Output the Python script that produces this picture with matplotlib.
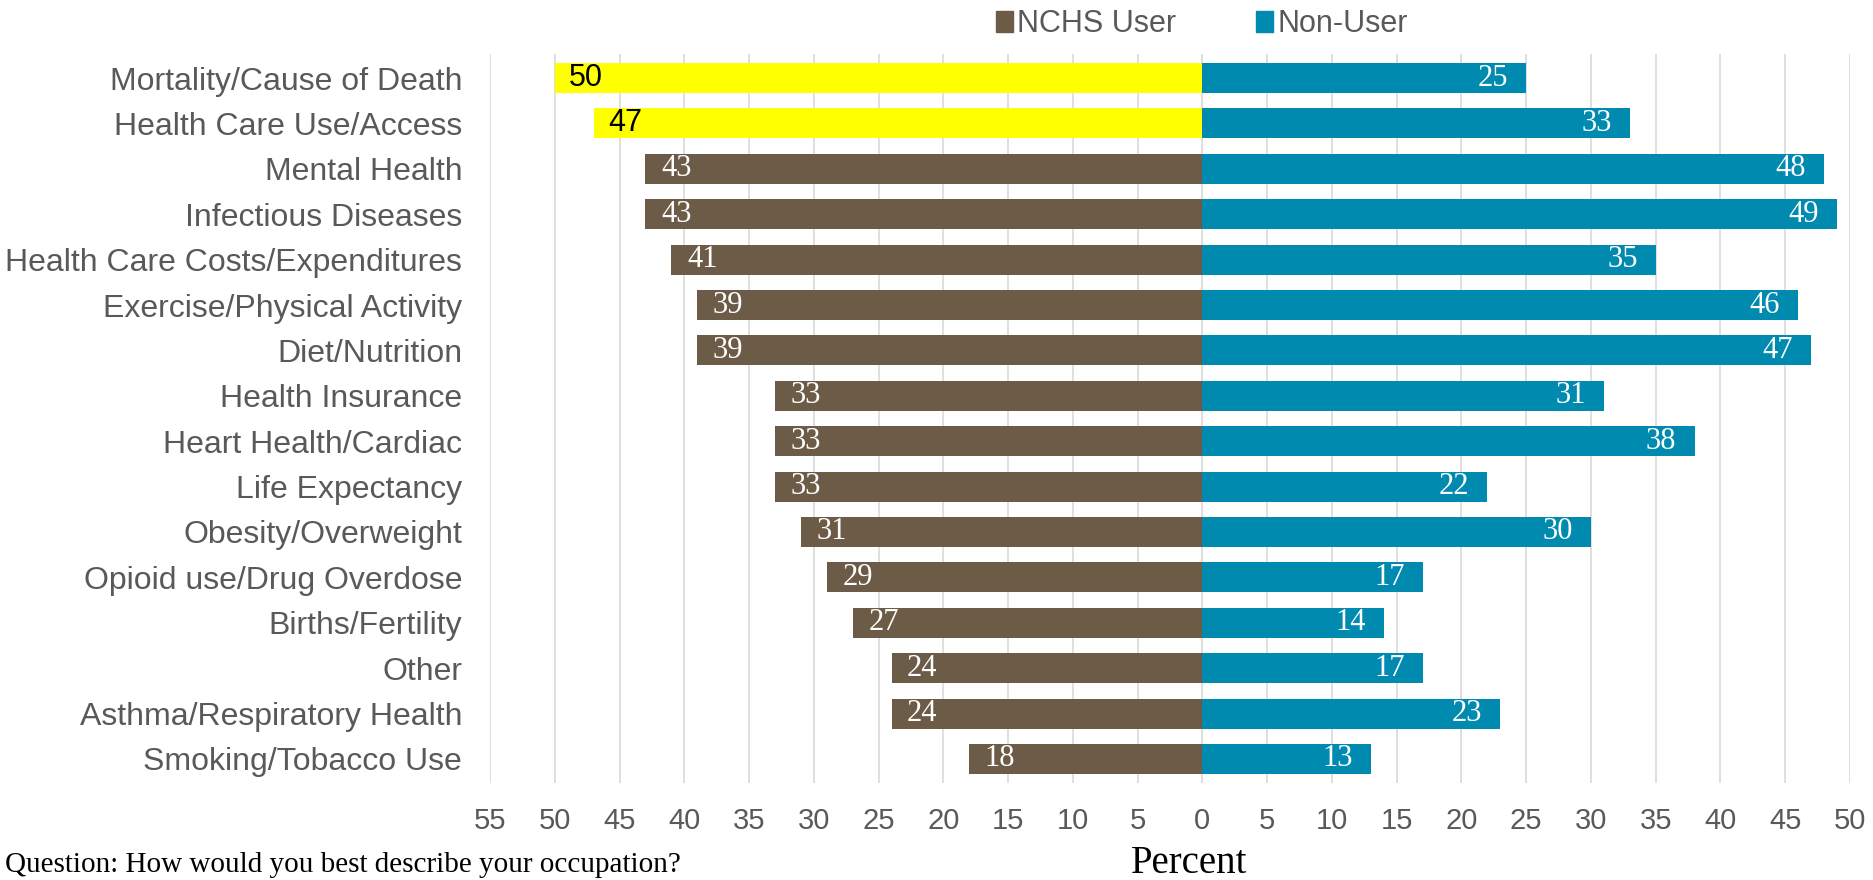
import matplotlib.pyplot as plt
from matplotlib.ticker import FuncFormatter
from matplotlib.patches import Patch

# data
categories = ['Mortality/Cause of Death', 'Health Care Use/Access', 'Mental Health',
              'Infectious Diseases', 'Health Care Costs/Expenditures',
              'Exercise/Physical Activity', 'Diet/Nutrition', 'Health Insurance',
              'Heart Health/Cardiac', 'Life Expectancy', 'Obesity/Overweight',
              'Opioid use/Drug Overdose', 'Births/Fertility', 'Other',
              'Asthma/Respiratory Health', 'Smoking/Tobacco Use']
nchs_user = [50, 47, 43, 43, 41, 39, 39, 33, 33, 33, 31, 29, 27, 24, 24, 18]
non_user = [25, 33, 48, 49, 35, 46, 47, 31, 38, 22, 30, 17, 14, 17, 23, 13]
highlight = [True, True] + [False] * 14

brown = '#6B5B47'
blue = '#008AB0'
yellow = '#FFFF00'
gray = '#595959'

fig = plt.figure(figsize=(18.74, 8.8), dpi=100)
ax = fig.add_axes([490/1874, 1 - 783/880, (1850-490)/1874, (783-54)/880])

y = list(range(len(categories)))
left_colors = [yellow if h else brown for h in highlight]
ax.barh(y, [-v for v in nchs_user], height=0.66, color=left_colors, zorder=2)
ax.barh(y, non_user, height=0.66, color=blue, zorder=2)

# bar labels
for i, (a, b, h) in enumerate(zip(nchs_user, non_user, highlight)):
    if h:
        ax.text(-a + 1.1, i, str(a), ha='left', va='center', fontsize=22,
                color='black', family='Liberation Sans', zorder=3)
    else:
        ax.text(-a + 1.2, i, str(a), ha='left', va='center', fontsize=22,
                color='white', family='Liberation Serif', zorder=3)
    ax.text(b - 1.4, i, str(b), ha='right', va='center', fontsize=22,
            color='white', family='Liberation Serif', zorder=3)

ax.set_xlim(-55, 50)
ax.set_ylim(15.53, -0.53)
ax.set_xticks(range(-55, 51, 5))
ax.xaxis.set_major_formatter(FuncFormatter(lambda v, p: str(abs(int(v)))))
ax.set_yticks(y)
ax.set_yticklabels(categories, family='Liberation Sans', fontsize=23, color=gray)
ax.tick_params(axis='x', length=0, pad=17, labelsize=21, labelcolor=gray)
ax.tick_params(axis='y', length=0, pad=20)
for lab in ax.get_xticklabels():
    lab.set_family('Liberation Sans')
ax.grid(axis='x', color='#D9D9D9', linewidth=1.2, zorder=0)
for s in ax.spines.values():
    s.set_visible(False)

fig.text(1189/1874, 1 - 873/880, 'Percent', family='Liberation Serif', fontsize=28,
         ha='center', va='baseline')

handles = [Patch(color=brown, label='NCHS User'), Patch(color=blue, label='Non-User')]
leg = fig.legend(handles=handles, loc='center', bbox_to_anchor=(1202/1874, 1 - 24/880),
                 ncol=2, frameon=False, handlelength=0.55, handleheight=0.7,
                 handletextpad=0.15, columnspacing=2.6,
                 prop={'family': 'Liberation Sans', 'size': 22})
for t in leg.get_texts():
    t.set_color(gray)

fig.text(5/1874, 2/880, 'Question: How would you best describe your occupation?',
         family='Liberation Serif', fontsize=21, va='bottom', ha='left')

fig.savefig('out.png', dpi=100)
